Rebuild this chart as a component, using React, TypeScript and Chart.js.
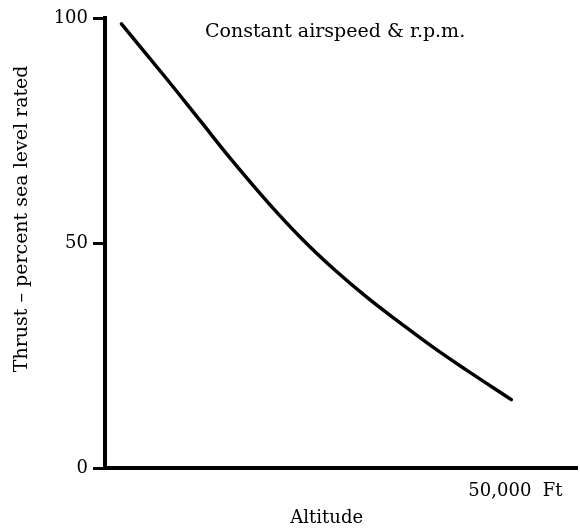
import React, { useEffect, useRef } from "react";
import { Chart, registerables } from "chart.js";

Chart.register(...registerables);

const altitudeFt = [2000, 7500, 11500, 15500, 20000, 24000, 28000, 32000, 36000, 40000, 44000, 49500];
const thrustPct = [98.7, 86.5, 77.4, 68.3, 58.7, 50.9, 44.0, 37.8, 32.2, 26.8, 21.8, 15.2];
const yTickValues = [0, 50, 100];
const xTickValues = [50000];
const xTickLabels = ["50,000  Ft"];
const chartNote = "Constant airspeed & r.p.m.";
const xTitle = "Altitude\u00a0\u00a0\u00a0\u00a0\u00a0";
const yTitle = "\u00a0\u00a0\u00a0\u00a0\u00a0\u00a0\u00a0\u00a0Thrust \u2013 percent sea level rated";

const FONT = "'DejaVu Serif', 'Liberation Serif', serif";

const notePlugin = {
  id: "notePlugin",
  afterDraw(chart: any) {
    const { ctx, chartArea } = chart;
    ctx.save();
    ctx.font = `19px ${FONT}`;
    ctx.fillStyle = "#000";
    ctx.textBaseline = "middle";
    ctx.textAlign = "left";
    ctx.fillText(chartNote, chartArea.left + 100, chartArea.top + 14);
    ctx.restore();
  },
};

export default function App() {
  const ref = useRef<HTMLCanvasElement | null>(null);
  useEffect(() => {
    if (!ref.current) return;
    const chart = new Chart(ref.current, {
      type: "line",
      data: {
        datasets: [
          {
            data: altitudeFt.map((x, i) => ({ x, y: thrustPct[i] })),
            borderColor: "#000",
            borderWidth: 3.5,
            pointRadius: 0,
            tension: 0.4,
            fill: false,
            borderCapStyle: "round",
          },
        ],
      },
      options: {
        animation: false,
        responsive: true,
        maintainAspectRatio: false,
        layout: { padding: { left: 0, right: 3, top: 18, bottom: 0 } },
        plugins: { legend: { display: false }, tooltip: { enabled: false }, title: { display: false } },
        scales: {
          x: {
            type: "linear",
            min: 0,
            max: 57500,
            afterBuildTicks: (s: any) => {
              s.ticks = xTickValues.map((v) => ({ value: v }));
            },
            afterFit: (s: any) => {
              s.height = 63;
            },
            ticks: {
              callback: (v: any) => {
                const i = xTickValues.indexOf(v);
                return i >= 0 ? xTickLabels[i] : "";
              },
              font: { family: FONT, size: 18 },
              color: "#000",
              padding: 5,
              maxRotation: 0,
              autoSkip: false,
            },
            grid: { display: false },
            border: { display: true, color: "#000", width: 4 },
            title: {
              display: true,
              text: xTitle,
              font: { family: FONT, size: 18 },
              color: "#000",
              padding: { top: 0, bottom: 2 },
            },
          },
          y: {
            min: 0,
            max: 100,
            afterBuildTicks: (s: any) => {
              s.ticks = yTickValues.map((v) => ({ value: v }));
            },
            afterFit: (s: any) => {
              s.width = 105;
            },
            ticks: {
              font: { family: FONT, size: 18 },
              color: "#000",
              padding: 5,
            },
            grid: {
              drawOnChartArea: false,
              drawTicks: true,
              tickLength: 12,
              lineWidth: 3,
              color: "#000",
            },
            border: { display: true, color: "#000", width: 4 },
            title: {
              display: true,
              text: yTitle,
              font: { family: FONT, size: 19 },
              color: "#000",
              padding: { top: 11, bottom: 0 },
            },
          },
        },
      },
      plugins: [notePlugin],
    });
    return () => chart.destroy();
  }, []);
  return (
    <div style={{ position: "fixed", left: 0, top: 0, width: 580, height: 531, background: "#fff" }}>
      <canvas ref={ref} />
    </div>
  );
}
